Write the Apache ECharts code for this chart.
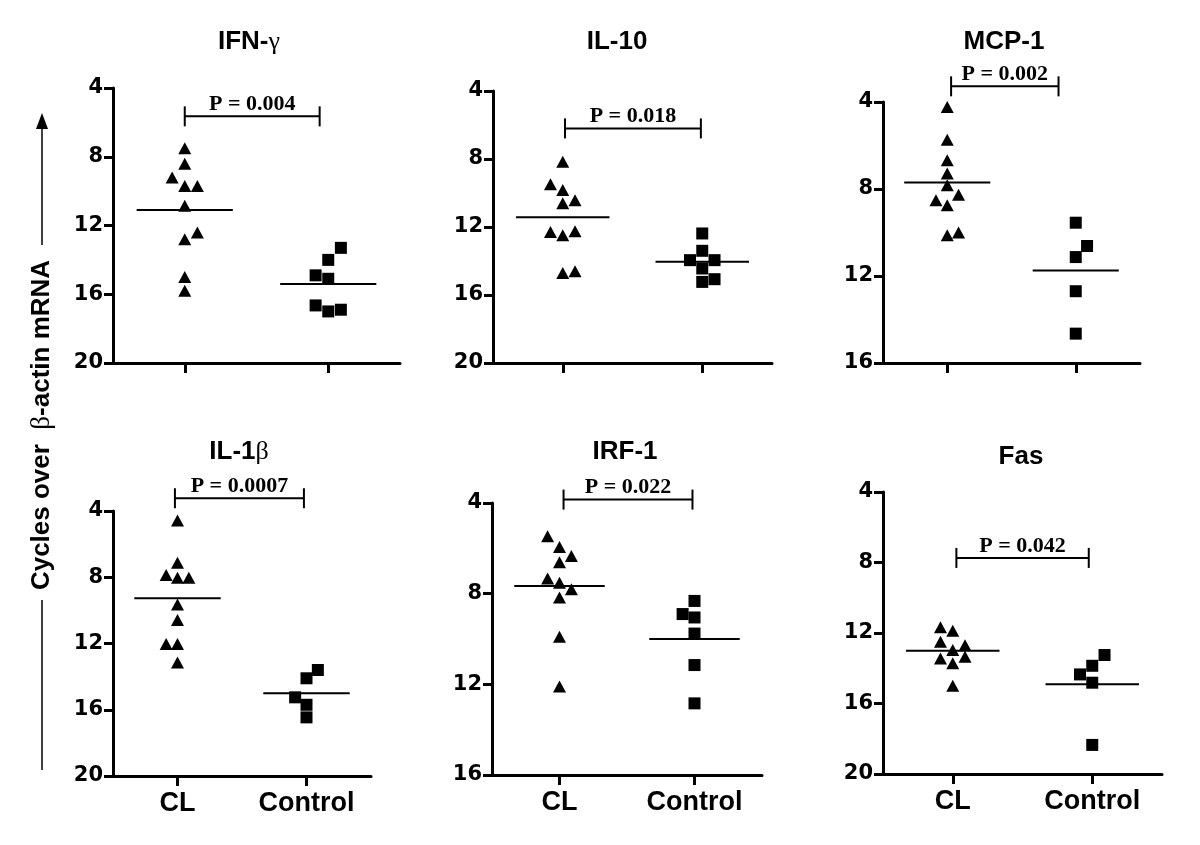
<!DOCTYPE html>
<html>
<head>
<meta charset="utf-8">
<script src="https://cdn.jsdelivr.net/npm/echarts/dist/echarts.min.js"></script>
<style>
html,body{margin:0;padding:0;background:#fff;}
#chart{width:1200px;height:845px;}
</style>
</head>
<body>
<div id="chart"></div>
<script>
// ---------------- DATA ----------------
const categories = ['CL', 'Control'];
const panelTitles = ['IFN-γ', 'IL-10', 'MCP-1', 'IL-1β', 'IRF-1', 'Fas'];
const pLabels = ['P = 0.004', 'P = 0.018', 'P = 0.002', 'P = 0.0007', 'P = 0.022', 'P = 0.042'];
const yMaxes = [20, 20, 16, 20, 16, 20];
const yLabel = 'Cycles over  β-actin mRNA';

// IFN-γ
const ifnCL = [7.5, 8.4, 9.2, 9.7, 9.7, 10.85, 12.4, 12.8, 15.0, 15.8];
const ifnCLSlot = [0, 0, -1, 0, 1, 0, 1, 0, 0, 0];
const ifnCtrl = [13.3, 14.0, 14.9, 15.1, 16.65, 17.0, 16.9];
const ifnCtrlSlot = [1, 0, -1, 0, -1, 0, 1];
const ifnMedian = [11.1, 15.4];

// IL-10
const il10CL = [8.16, 9.48, 9.83, 10.42, 10.6, 12.3, 12.48, 12.25, 14.7, 14.6];
const il10CLSlot = [0, -1, 0, 1, 0, -1, 0, 1, 0, 1];
const il10Ctrl = [12.38, 13.4, 13.95, 13.95, 14.44, 15.23, 15.07];
const il10CtrlSlot = [0, 0, -1, 1, 0, 0, 1];
const il10Median = [11.42, 14.05];

// MCP-1
const mcpCL = [4.23, 5.73, 6.68, 7.29, 7.83, 8.26, 8.52, 8.75, 10.13, 10.0];
const mcpCLSlot = [0, 0, 0, 0, 0, 1, -1, 0, 0, 1];
const mcpCtrl = [9.55, 10.62, 11.13, 12.7, 14.65];
const mcpCtrlSlot = [0, 1, 0, 0, 0];
const mcpMedian = [7.70, 11.75];

// IL-1β
const il1bCL = [4.58, 7.12, 7.86, 8.03, 8.03, 9.64, 10.58, 12.03, 12.03, 13.14];
const il1bCLSlot = [0, 0, -1, 0, 1, 0, 0, -1, 0, 0];
const il1bCtrl = [13.6, 14.1, 15.25, 15.7, 16.46];
const il1bCtrlSlot = [1, 0, -1, 0, 0];
const il1bMedian = [9.27, 15.0];

// IRF-1
const irfCL = [5.47, 5.94, 6.34, 6.61, 7.33, 7.52, 7.80, 8.17, 9.9, 12.1];
const irfCLSlot = [-1, 0, 1, 0, -1, 0, 1, 0, 0, 0];
const irfCtrl = [8.32, 8.9, 9.05, 9.76, 11.15, 12.84];
const irfCtrlSlot = [0, -1, 0, 0, 0, 0];
const irfMedian = [7.66, 10.0];

// Fas
const fasCL = [11.68, 11.87, 12.5, 12.69, 12.97, 13.44, 13.35, 13.72, 14.99];
const fasCLSlot = [-1, 0, -1, 1, 0, -1, 1, 0, 0];
const fasCtrl = [13.25, 13.86, 14.35, 14.82, 18.35];
const fasCtrlSlot = [1, 0, -1, 0, 0];
const fasMedian = [13.0, 14.91];

// ---------------- LAYOUT (not data) ----------------
const grids = [
  {left: 113, top: 88, width: 287, height: 275},
  {left: 493, top: 91, width: 279, height: 272},
  {left: 883, top: 102, width: 257, height: 261},
  {left: 113, top: 511, width: 258, height: 265},
  {left: 492, top: 503, width: 270, height: 272},
  {left: 883, top: 492, width: 279, height: 282}
];
const bracketLayout = [
  {level: 5.65, from: 0, to: 0.94},
  {level: 6.2, from: 0.016, to: 0.99},
  {level: 3.28, from: 0.03, to: 0.866},
  {level: 3.23, from: -0.02, to: 0.98},
  {level: 3.85, from: 0.03, to: 0.985},
  {level: 7.74, from: 0.026, to: 0.975}
];
const titlePos = [[249, 42], [617, 42], [1004, 42], [239, 452], [625, 452], [1021, 457]];
const JIT = 0.088;   // horizontal jitter step (category units)
const HALF = 0.335;  // half-width of median line (category units)

const panels = [
  {cl: ifnCL, clSlot: ifnCLSlot, ctrl: ifnCtrl, ctrlSlot: ifnCtrlSlot, median: ifnMedian},
  {cl: il10CL, clSlot: il10CLSlot, ctrl: il10Ctrl, ctrlSlot: il10CtrlSlot, median: il10Median},
  {cl: mcpCL, clSlot: mcpCLSlot, ctrl: mcpCtrl, ctrlSlot: mcpCtrlSlot, median: mcpMedian},
  {cl: il1bCL, clSlot: il1bCLSlot, ctrl: il1bCtrl, ctrlSlot: il1bCtrlSlot, median: il1bMedian},
  {cl: irfCL, clSlot: irfCLSlot, ctrl: irfCtrl, ctrlSlot: irfCtrlSlot, median: irfMedian},
  {cl: fasCL, clSlot: fasCLSlot, ctrl: fasCtrl, ctrlSlot: fasCtrlSlot, median: fasMedian}
];

const SANS = '"Liberation Sans", Arial, sans-serif';
const SERIF = '"Liberation Serif", "Times New Roman", serif';

const xAxes = [], yAxes = [], series = [];
panels.forEach((p, i) => {
  const bottomRow = i >= 3;
  xAxes.push({
    type: 'category', gridIndex: i, data: categories, boundaryGap: true,
    axisLine: {show: true, onZero: false, lineStyle: {color: '#000', width: 3}},
    axisTick: {show: true, alignWithLabel: true, interval: 0, length: 10, lineStyle: {color: '#000', width: 3}},
    axisLabel: {show: bottomRow, interval: 0, color: '#000', fontFamily: SANS, fontWeight: 'bold', fontSize: 27, margin: 14},
    splitLine: {show: false}
  });
  xAxes.push({type: 'value', gridIndex: i, min: -0.5, max: 1.5, show: false});
  yAxes.push({
    type: 'value', gridIndex: i, inverse: true, min: 4, max: yMaxes[i], interval: 4,
    axisLine: {show: true, onZero: false, lineStyle: {color: '#000', width: 3}},
    axisTick: {show: true, length: 9, lineStyle: {color: '#000', width: 3}},
    axisLabel: {color: '#000', fontFamily: '"DejaVu Sans", sans-serif', fontWeight: 'bold', fontSize: 21, margin: 10},
    splitLine: {show: false}
  });
  const xi = 2 * i + 1;
  series.push({
    type: 'scatter', xAxisIndex: xi, yAxisIndex: i, symbol: 'triangle', symbolSize: [13, 12],
    itemStyle: {color: '#000', opacity: 1}, silent: true,
    data: p.cl.map((v, k) => [0 + p.clSlot[k] * JIT, v])
  });
  series.push({
    type: 'scatter', xAxisIndex: xi, yAxisIndex: i, symbol: 'rect', symbolSize: 12,
    itemStyle: {color: '#000', opacity: 1}, silent: true,
    data: p.ctrl.map((v, k) => [1 + p.ctrlSlot[k] * JIT, v])
  });
  // median lines
  series.push({
    type: 'custom', xAxisIndex: xi, yAxisIndex: i, silent: true,
    data: p.median.map((m, k) => [k, m]),
    renderItem: function (params, api) {
      const x = api.value(0), y = api.value(1);
      const a = api.coord([x - HALF, y]), b = api.coord([x + HALF, y]);
      return {type: 'line', shape: {x1: a[0], y1: a[1], x2: b[0], y2: b[1]},
              style: {stroke: '#000', lineWidth: 2}};
    }
  });
  // significance bracket
  const br = bracketLayout[i];
  series.push({
    type: 'custom', xAxisIndex: xi, yAxisIndex: i, silent: true, clip: false,
    data: [[br.from, br.to, br.level]],
    encode: {x: [0, 1], y: 2},
    renderItem: function (params, api) {
      const a = api.coord([api.value(0), api.value(2)]);
      const b = api.coord([api.value(1), api.value(2)]);
      const d = 10;
      return {type: 'group', children: [
        {type: 'line', shape: {x1: a[0], y1: a[1], x2: b[0], y2: b[1]}, style: {stroke: '#000', lineWidth: 2}},
        {type: 'line', shape: {x1: a[0], y1: a[1] - d, x2: a[0], y2: a[1] + d}, style: {stroke: '#000', lineWidth: 2}},
        {type: 'line', shape: {x1: b[0], y1: b[1] - d, x2: b[0], y2: b[1] + d}, style: {stroke: '#000', lineWidth: 2}},
        {type: 'text', x: (a[0] + b[0]) / 2, y: a[1] - 12,
         style: {text: pLabels[i], fill: '#000', font: 'bold 22px ' + SERIF, textAlign: 'center', textVerticalAlign: 'middle'}}
      ]};
    }
  });
});

// titles as rich text (Greek letters in serif, like the original)
function titleText(t) {
  const m = t.match(/^(.*?)([γβ])$/);
  if (m) return '{a|' + m[1] + '}{g|' + m[2] + '}';
  return '{a|' + t + '}';
}
const graphics = panelTitles.map((t, i) => ({
  type: 'text', x: titlePos[i][0], y: titlePos[i][1], silent: true,
  style: {
    text: titleText(t), textAlign: 'center', textVerticalAlign: 'middle',
    rich: {
      a: {fontFamily: SANS, fontWeight: 'bold', fontSize: 26, fill: '#000'},
      g: {fontFamily: SERIF, fontWeight: 'normal', fontSize: 26, fill: '#000'}
    }
  }
}));
// vertical axis label with arrow
const ylParts = yLabel.split('β');
graphics.push({
  type: 'text', x: 42, y: 425, rotation: Math.PI / 2, silent: true,
  style: {
    text: '{a|' + ylParts[0] + '}{g|β}{a|' + ylParts[1] + '}',
    textAlign: 'center', textVerticalAlign: 'middle',
    rich: {
      a: {fontFamily: SANS, fontWeight: 'bold', fontSize: 26, fill: '#000'},
      g: {fontFamily: SERIF, fontWeight: 'normal', fontSize: 27, fill: '#000'}
    }
  }
});
graphics.push({type: 'line', silent: true, shape: {x1: 42, y1: 245, x2: 42, y2: 126}, style: {stroke: '#000', lineWidth: 1.5}});
graphics.push({type: 'polygon', silent: true, shape: {points: [[42, 113], [36, 129], [48, 129]]}, style: {fill: '#000'}});
graphics.push({type: 'line', silent: true, shape: {x1: 42, y1: 600, x2: 42, y2: 770}, style: {stroke: '#000', lineWidth: 1.5}});

const chart = echarts.init(document.getElementById('chart'), null, {renderer: 'canvas'});
chart.setOption({
  animation: false,
  backgroundColor: '#fff',
  grid: grids,
  xAxis: xAxes,
  yAxis: yAxes,
  series: series,
  graphic: graphics
});
</script>
</body>
</html>
